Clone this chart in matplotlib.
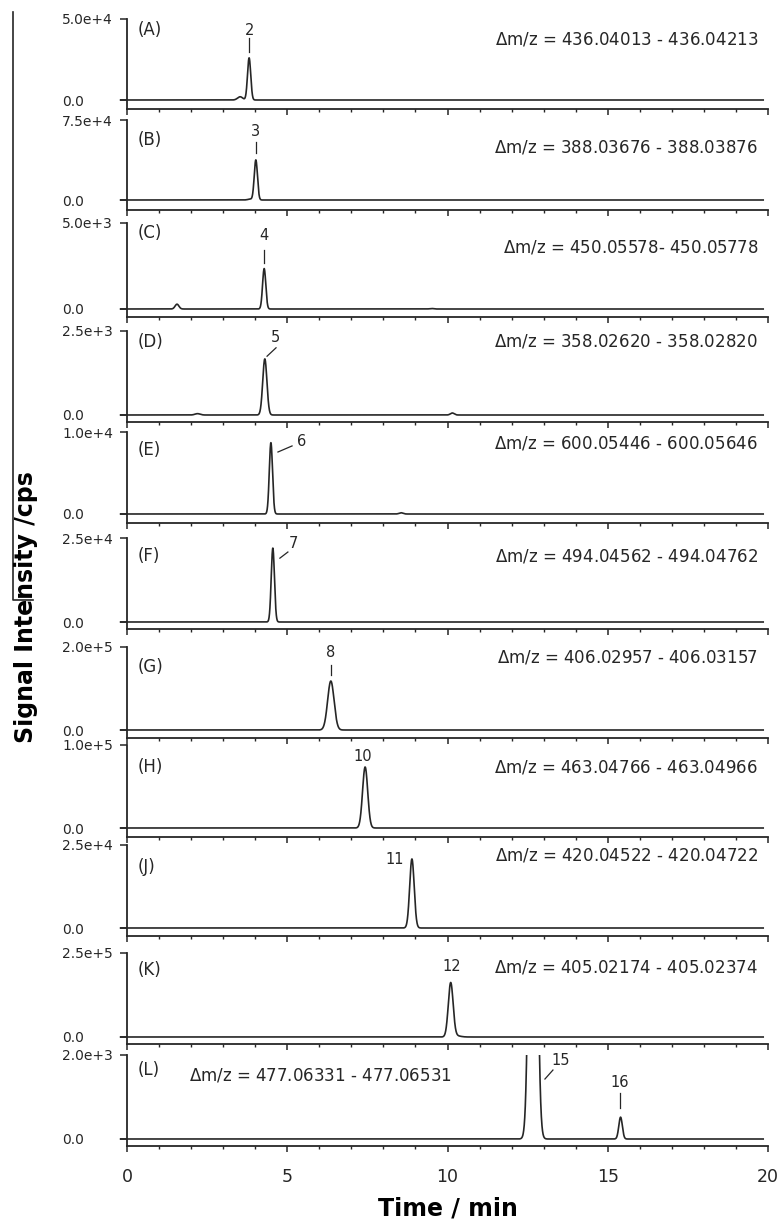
import numpy as np
import matplotlib
matplotlib.use('Agg')
import matplotlib.pyplot as plt
from matplotlib.lines import Line2D
from matplotlib.ticker import MultipleLocator

# ---- data ----
panel_ids = ['(A)', '(B)', '(C)', '(D)', '(E)', '(F)', '(G)', '(H)', '(J)', '(K)', '(L)']
mz_ranges = ['436.04013 - 436.04213', '388.03676 - 388.03876', '450.05578- 450.05778',
             '358.02620 - 358.02820', '600.05446 - 600.05646', '494.04562 - 494.04762',
             '406.02957 - 406.03157', '463.04766 - 463.04966', '420.04522 - 420.04722',
             '405.02174 - 405.02374', '477.06331 - 477.06531']
y_max = [5.0e4, 7.5e4, 5.0e3, 2.5e3, 1.0e4, 2.5e4, 2.0e5, 1.0e5, 2.5e4, 2.5e5, 2.0e3]
y_max_labels = ['5.0e+4', '7.5e+4', '5.0e+3', '2.5e+3', '1.0e+4', '2.5e+4',
                '2.0e+5', '1.0e+5', '2.5e+4', '2.5e+5', '2.0e+3']

# peaks in each extracted ion chromatogram: retention time (min), height (cps), sigma (min)
peak_rt = [[3.53, 3.81], [3.85, 4.02], [1.56, 4.28, 9.50], [2.20, 4.30, 10.15],
           [4.49, 8.55], [4.55], [6.36], [7.43], [8.89], [10.10, 10.25],
           [12.67, 15.40]]
peak_height = [[2.0e3, 2.6e4], [8.0e2, 3.75e4], [2.8e2, 2.35e3, 3.0e1], [4.0e1, 1.67e3, 6.0e1],
               [8.7e3, 1.5e2], [2.2e4], [1.18e5], [7.35e4], [2.08e4], [1.6e5, 4.0e3],
               [1.5e4, 5.2e2]]
peak_sigma = [[0.08, 0.05], [0.08, 0.05], [0.06, 0.05, 0.06], [0.08, 0.065, 0.06],
              [0.05, 0.06], [0.05], [0.10], [0.08], [0.07], [0.075, 0.14],
              [0.10, 0.055]]

compound_ids = [['2'], ['3'], ['4'], ['5'], ['6'], ['7'], ['8'], ['10'], ['11'], ['12'], ['15', '16']]

# ---- layout (pixels of the 779x1219 figure) ----
W, H = 779, 1219
panel_top_px = [19, 120, 223, 331, 432, 538, 647, 745, 845, 953, 1055]
panel_bot_px = [109, 210, 317, 422, 523, 629, 738, 837, 936, 1044, 1146]
panel_base_px = [100, 200, 309, 415, 514, 622, 730, 828, 928, 1037, 1139]
x0_px, x20_px = 127, 768
x_left = -0.25
id_off_px = [11, 20, 10, 11, 18, 18, 20, 22, 22, 17, 15]
mz_off_px = [21, 27, 24, 11, 12, 18, 11, 22, 11, 14, 20]
# peak label: (text time, text frac of ymax, leader line (t0, f0, t1, f1) or None)
peak_label_pos = [
    [(3.81, 0.86, (3.81, 0.59, 3.81, 0.765))],
    [(4.02, 0.85, (4.02, 0.59, 4.02, 0.725))],
    [(4.28, 0.86, (4.28, 0.535, 4.28, 0.686))],
    [(4.62, 0.92, (4.37, 0.70, 4.65, 0.80))],
    [(5.46, 0.89, (4.71, 0.756, 5.15, 0.83))],
    [(5.18, 0.94, (4.77, 0.76, 5.02, 0.833))],
    [(6.36, 0.93, (6.36, 0.66, 6.36, 0.783))],
    [(7.36, 0.867, None)],
    [(8.36, 0.82, None)],
    [(10.14, 0.845, None)],
    [(13.54, 0.94, (13.04, 0.714, 13.29, 0.821)),
     (15.38, 0.667, (15.38, 0.369, 15.38, 0.548))],
]

ink = '#262626'
plt.rcParams['font.family'] = ['DejaVu Sans']
plt.rcParams['mathtext.fontset'] = 'custom'
plt.rcParams['mathtext.rm'] = 'DejaVu Sans'
plt.rcParams['mathtext.it'] = 'DejaVu Sans:italic'

fig = plt.figure(figsize=(W / 100, H / 100), dpi=100)
px_per_min = (x20_px - x0_px) / 20.0
ax_left_px = x0_px + x_left * px_per_min

t = np.linspace(-0.2, 19.85, 6000)

for i in range(len(panel_ids)):
    top, bot, base = panel_top_px[i], panel_bot_px[i], panel_base_px[i]
    ax = fig.add_axes([ax_left_px / W, 1 - bot / H, (x20_px - ax_left_px) / W, (bot - top) / H])
    ymax = y_max[i]
    ymin = -ymax * (bot - base) / (base - top)

    sig = np.zeros_like(t)
    for rt, h, s in zip(peak_rt[i], peak_height[i], peak_sigma[i]):
        sig += h * np.exp(-0.5 * ((t - rt) / s) ** 2)
    ax.plot(t, sig, color=ink, lw=1.2)

    ax.set_xlim(x_left, 20)
    ax.set_ylim(ymin, ymax)
    for side in ['top', 'right']:
        ax.spines[side].set_visible(False)
    ax.spines['left'].set_position(('data', 0))
    ax.spines['bottom'].set_bounds(0, 20)
    for side in ['left', 'bottom']:
        ax.spines[side].set_color(ink)
        ax.spines[side].set_linewidth(1.3)

    ax.set_yticks([0, ymax])
    ax.set_yticklabels(['0.0', y_max_labels[i]])
    ax.tick_params(axis='y', direction='out', length=5, width=1.1, color=ink,
                   labelsize=10, labelcolor=ink, pad=(x0_px - 62) * 0.72 - 5)
    for lab in ax.get_yticklabels():
        lab.set_horizontalalignment('left')

    ax.xaxis.set_major_locator(MultipleLocator(5))
    ax.xaxis.set_minor_locator(MultipleLocator(1))
    ax.tick_params(axis='x', which='major', direction='out', length=4, width=1.1, color=ink,
                   labelsize=12.5, labelcolor=ink, pad=12)
    ax.tick_params(axis='x', which='minor', direction='out', length=2.5, width=1.0, color=ink)
    if i < len(panel_ids) - 1:
        ax.tick_params(axis='x', labelbottom=False)
    else:
        ax.set_xticks([0, 5, 10, 15, 20])
        ax.set_xticklabels(['0', '5', '10', '15', '20'])

    hpx = bot - top
    ax.text((138 - ax_left_px) / (x20_px - ax_left_px), 1 - id_off_px[i] / hpx, panel_ids[i],
            transform=ax.transAxes, fontsize=12, color=ink, ha='left', va='center')

    mz_text = '$\\mathit{\u0394}$m/z = ' + mz_ranges[i]
    if i == len(panel_ids) - 1:
        ax.text((189 - ax_left_px) / (x20_px - ax_left_px), 1 - mz_off_px[i] / hpx, mz_text,
                transform=ax.transAxes, fontsize=12, color=ink, ha='left', va='center')
    else:
        ax.text((758 - ax_left_px) / (x20_px - ax_left_px), 1 - mz_off_px[i] / hpx, mz_text,
                transform=ax.transAxes, fontsize=12, color=ink, ha='right', va='center')

    for cid, (tx, fy, leader) in zip(compound_ids[i], peak_label_pos[i]):
        ax.text(tx, fy * ymax, cid, fontsize=10.5, color=ink, ha='center', va='center')
        if leader is not None:
            ax.plot([leader[0], leader[2]], [leader[1] * ymax, leader[3] * ymax],
                    color=ink, lw=0.9)

fig.text((x0_px + x20_px) / 2 / W, 1 - 1208 / H, 'Time / min', fontsize=17,
         fontweight='bold', color='black', ha='center', va='center')
fig.text(26 / W, 1 - 607 / H, 'Signal Intensity /cps', fontsize=17, fontweight='bold',
         color='black', rotation=90, ha='center', va='center')

# bracket line at the far left of the original figure
fig.add_artist(Line2D([13 / W, 13 / W, 33 / W], [1 - 12 / H, 1 - 600 / H, 1 - 600 / H],
                      color=ink, lw=1.2))

fig.savefig('out.png', dpi=100)
